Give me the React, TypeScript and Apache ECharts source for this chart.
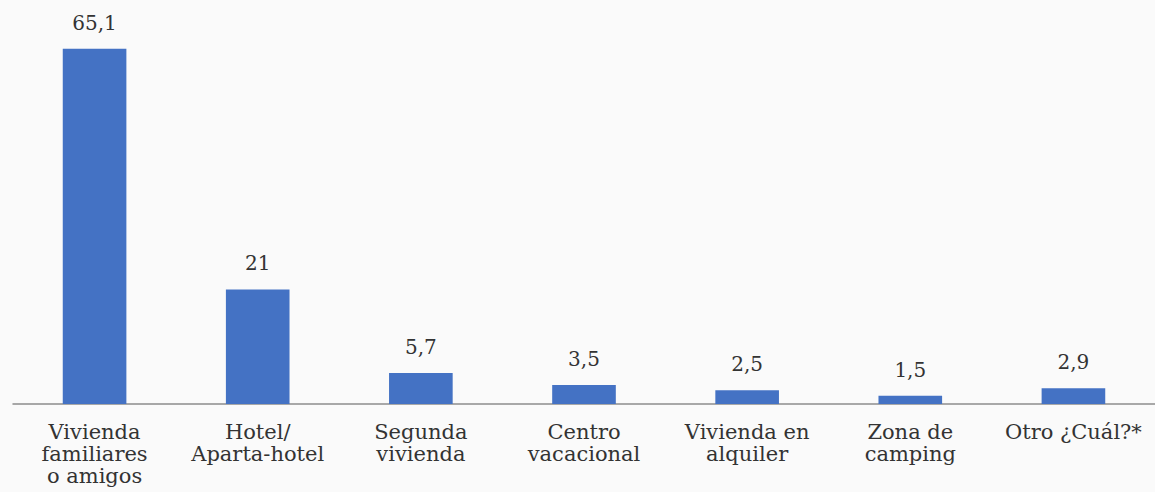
import React, { useEffect, useRef } from "react";
import * as echarts from "echarts";

const categories: string[] = [
  "Vivienda\nfamiliares\no amigos",
  "Hotel/\nAparta-hotel",
  "Segunda\nvivienda",
  "Centro\nvacacional",
  "Vivienda en\nalquiler",
  "Zona de\ncamping",
  "Otro ¿Cuál?*",
];
const values: number[] = [65.1, 21, 5.7, 3.5, 2.5, 1.5, 2.9];

const FONT = "DejaVu Serif, Liberation Serif, serif";

export default function App() {
  const ref = useRef<HTMLDivElement>(null);
  useEffect(() => {
    document.body.style.margin = "0";
    if (!ref.current) return;
    const chart = echarts.init(ref.current, undefined, { renderer: "svg" });
    chart.setOption({
      animation: false,
      backgroundColor: "#fafafa",
      grid: { left: 13, width: 1146, top: 22, bottom: 88, containLabel: false },
      xAxis: {
        type: "category",
        data: categories,
        axisLine: { lineStyle: { color: "#8c8c8c", width: 1.5 } },
        axisTick: { show: false },
        axisLabel: {
          interval: 0,
          color: "#333333",
          fontFamily: FONT,
          fontSize: 21,
          lineHeight: 22,
          margin: 17,
        },
      },
      yAxis: {
        type: "value",
        min: 0,
        max: 70,
        show: false,
        splitLine: { show: false },
      },
      series: [
        {
          type: "bar",
          data: values,
          barWidth: "39%",
          itemStyle: { color: "#4472c4" },
          label: {
            show: true,
            position: "top",
            distance: 16,
            color: "#333333",
            fontFamily: FONT,
            fontSize: 20,
            formatter: (p: any) => String(p.value).replace(".", ","),
          },
        },
      ],
    });
    return () => chart.dispose();
  }, []);
  return (
    <div
      ref={ref}
      style={{ position: "absolute", left: 0, top: 0, width: 1155, height: 492 }}
    />
  );
}
